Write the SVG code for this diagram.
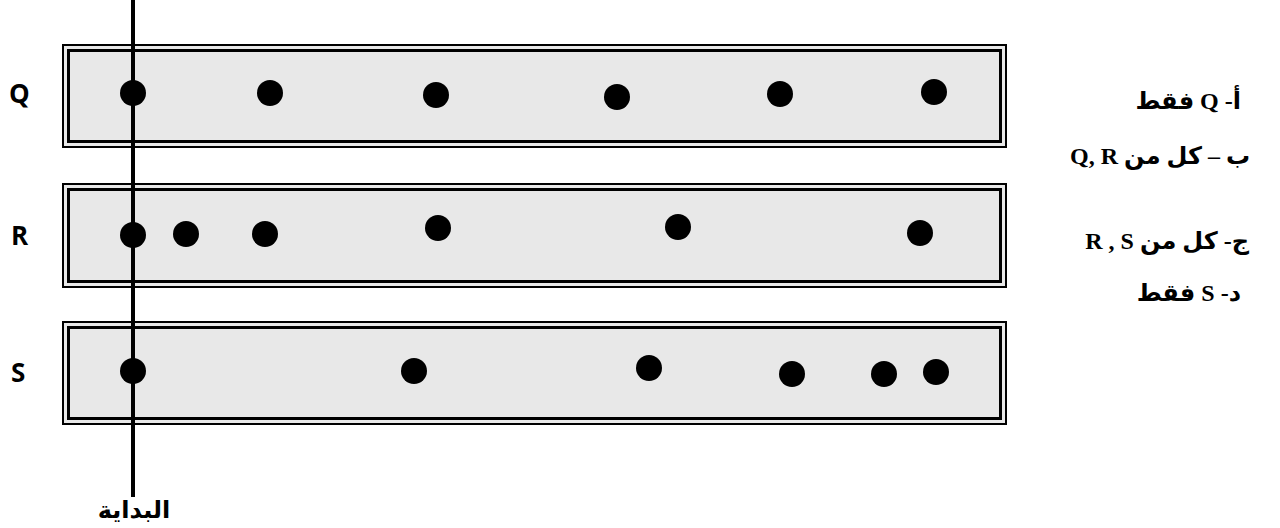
<svg xmlns="http://www.w3.org/2000/svg" width="1280" height="528" viewBox="0 0 1280 528">
<style>
.outer{fill:#e8e8e8;stroke:#000;stroke-width:2}
.inner{fill:none;stroke:#000;stroke-width:3}
.dot{fill:#000}
.lbl{font-family:"Open Sans","DejaVu Sans",sans-serif;font-weight:bold;font-size:26px;fill:#000}
.ar{font-family:"Liberation Serif","DejaVu Sans",serif;font-weight:bold;font-size:24px;fill:#000}
</style>
<rect width="1280" height="528" fill="#fff"/>
<g id="boxQ">
<rect class="outer" x="63" y="45" width="943" height="102"/>
<rect class="inner" x="68.5" y="50.5" width="932" height="91"/>
</g>
<g id="boxR">
<rect class="outer" x="63" y="184" width="943" height="103"/>
<rect class="inner" x="68.5" y="189.5" width="932" height="92"/>
</g>
<g id="boxS">
<rect class="outer" x="63" y="322" width="943" height="102"/>
<rect class="inner" x="68.5" y="327.5" width="932" height="91"/>
</g>
<g id="startLine">
<line x1="133" y1="0" x2="133" y2="497" stroke="#000" stroke-width="4"/>
</g>
<g id="dotsQ">
<circle class="dot" cx="133" cy="93" r="13"/>
<circle class="dot" cx="270" cy="93" r="13"/>
<circle class="dot" cx="436" cy="95" r="13"/>
<circle class="dot" cx="617" cy="97" r="13"/>
<circle class="dot" cx="780" cy="94" r="13"/>
<circle class="dot" cx="934" cy="92" r="13"/>
</g>
<g id="dotsR">
<circle class="dot" cx="133" cy="235" r="13"/>
<circle class="dot" cx="186" cy="234" r="13"/>
<circle class="dot" cx="265" cy="234" r="13"/>
<circle class="dot" cx="438" cy="228" r="13"/>
<circle class="dot" cx="678" cy="227" r="13"/>
<circle class="dot" cx="920" cy="233" r="13"/>
</g>
<g id="dotsS">
<circle class="dot" cx="133" cy="371" r="13"/>
<circle class="dot" cx="414" cy="371" r="13"/>
<circle class="dot" cx="649" cy="368" r="13"/>
<circle class="dot" cx="792" cy="374" r="13"/>
<circle class="dot" cx="884" cy="374" r="13"/>
<circle class="dot" cx="936" cy="372" r="13"/>
</g>
<g id="rowLabels">
<text class="lbl" x="9" y="103">Q</text>
<text class="lbl" x="11" y="245">R</text>
<text class="lbl" x="11" y="382">S</text>
</g>
<g id="options">
<text class="ar" x="1241" y="109" direction="rtl" unicode-bidi="embed" text-anchor="start">أ- Q فقط</text>
<text class="ar" x="1250" y="164" direction="rtl" unicode-bidi="embed" text-anchor="start">ب – كل من Q, R</text>
<text class="ar" x="1249" y="249" direction="rtl" unicode-bidi="embed" text-anchor="start">ج- كل من R , S</text>
<text class="ar" x="1241" y="301" direction="rtl" unicode-bidi="embed" text-anchor="start">د- S فقط</text>
</g>
<g id="startLabel">
<text class="ar" x="134" y="518" text-anchor="middle">البداية</text>
</g>
</svg>
